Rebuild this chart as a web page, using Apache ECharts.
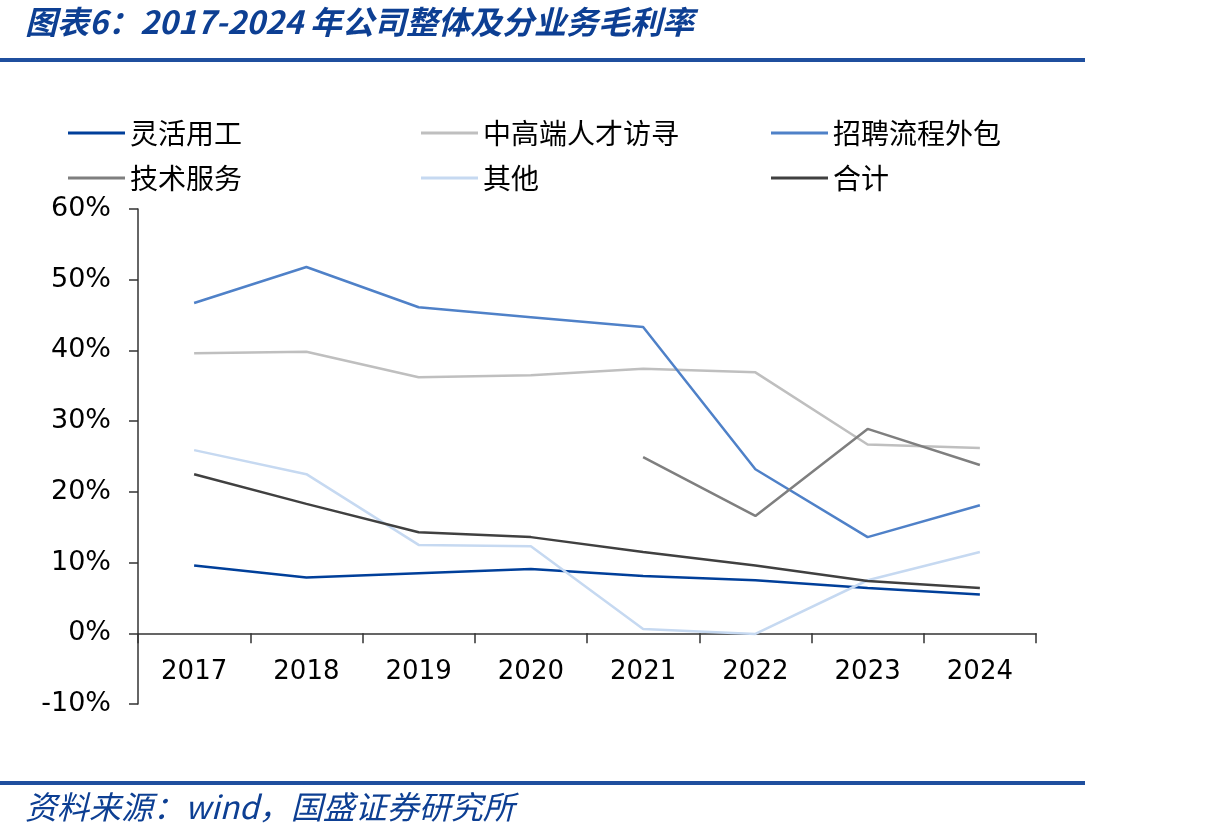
<!DOCTYPE html>
<html>
<head>
<meta charset="UTF-8">
<title>毛利率</title>
<script src="https://cdn.jsdelivr.net/npm/echarts@6/dist/echarts.min.js"></script>
<style>
html, body { margin: 0; padding: 0; background: #fff; }
#container { width: 1205px; height: 840px; }
</style>
</head>
<body>
<div id="container"></div>
<script type="text/javascript">
var years = ['2017', '2018', '2019', '2020', '2021', '2022', '2023', '2024'];

// 毛利率 (%)
var lhyg   = [9.6, 7.9, 8.5, 9.1, 8.1, 7.5, 6.4, 5.5];          // 灵活用工
var zgdrc  = [39.6, 39.8, 36.2, 36.5, 37.4, 36.9, 26.7, 26.2];  // 中高端人才访寻
var zplcwb = [46.7, 51.8, 46.1, 44.7, 43.3, 23.2, 13.6, 18.1];  // 招聘流程外包
var jsfw   = ['-', '-', '-', '-', 24.9, 16.6, 28.9, 23.8];      // 技术服务
var qita   = [25.9, 22.5, 12.5, 12.3, 0.6, -0.1, 7.5, 11.5];    // 其他
var heji   = [22.5, 18.3, 14.3, 13.6, 11.5, 9.6, 7.4, 6.4];     // 合计

var yMin = -10, yMax = 60, yStep = 10;

var names  = ['灵活用工', '中高端人才访寻', '招聘流程外包', '技术服务', '其他', '合计'];
var colors = ['#003f9a', '#bfbfbf', '#4f81c8', '#7f7f7f', '#c6d9f1', '#404040'];
var values = [lhyg, zgdrc, zplcwb, jsfw, qita, heji];

var blue = '#0d3f93';

var series = [];
for (var i = 0; i < names.length; i++) {
    series.push({
        name: names[i],
        type: 'line',
        data: values[i],
        symbol: 'none',
        color: colors[i],
        lineStyle: { width: 2.5, color: colors[i] },
        connectNulls: false,
        animation: false
    });
}

// one legend per item, 3 columns x 2 rows
var legendLeft = [63, 416, 766];
var legendTop = [114, 159];
var legends = [];
for (var k = 0; k < names.length; k++) {
    legends.push({
        left: legendLeft[k % 3],
        top: legendTop[Math.floor(k / 3)],
        icon: 'rect',
        itemWidth: 57,
        itemHeight: 3,
        itemGap: 0,
        data: [names[k]],
        textStyle: { fontFamily: 'Noto Sans CJK SC', fontSize: 28, color: '#000' }
    });
}

var myChart = echarts.init(document.getElementById('container'), null, { renderer: 'canvas' });

var option = {
    backgroundColor: '#fff',
    animation: false,
    graphic: [
        {
            type: 'text', left: 25, top: 6,
            style: {
                text: '图表6：2017-2024 年公司整体及分业务毛利率',
                fill: blue,
                font: 'italic bold 32px "Noto Sans CJK SC"'
            }
        },
        { type: 'rect', shape: { x: 0, y: 58, width: 1085, height: 4 }, style: { fill: '#1f4f9e' } },
        { type: 'rect', shape: { x: 0, y: 781, width: 1085, height: 4 }, style: { fill: '#1f4f9e' } },
        {
            type: 'text', left: 25, top: 791,
            style: {
                text: '资料来源：wind，国盛证券研究所',
                fill: blue,
                font: 'italic 32px "Noto Sans CJK SC"'
            }
        }
    ],
    legend: legends,
    grid: { left: 138, right: 169, top: 209, bottom: 136, containLabel: false },
    xAxis: {
        type: 'category',
        data: years,
        boundaryGap: true,
        axisLine: { onZero: true, lineStyle: { color: '#333', width: 1.5 } },
        axisTick: { show: true, length: 10, inside: false, lineStyle: { color: '#333', width: 1.5 } },
        axisLabel: { margin: -45, fontFamily: 'DejaVu Sans', fontSize: 26, color: '#000' },
        splitLine: { show: false }
    },
    yAxis: {
        type: 'value',
        min: yMin,
        max: yMax,
        interval: yStep,
        axisLine: { show: true, lineStyle: { color: '#333', width: 1.5 } },
        axisTick: { show: true, length: 9, inside: false, lineStyle: { color: '#333', width: 1.5 } },
        axisLabel: { formatter: '{value}%', margin: 27, fontFamily: 'DejaVu Sans', fontSize: 27, color: '#000' },
        splitLine: { show: false }
    },
    series: series
};

myChart.setOption(option);
</script>
</body>
</html>
